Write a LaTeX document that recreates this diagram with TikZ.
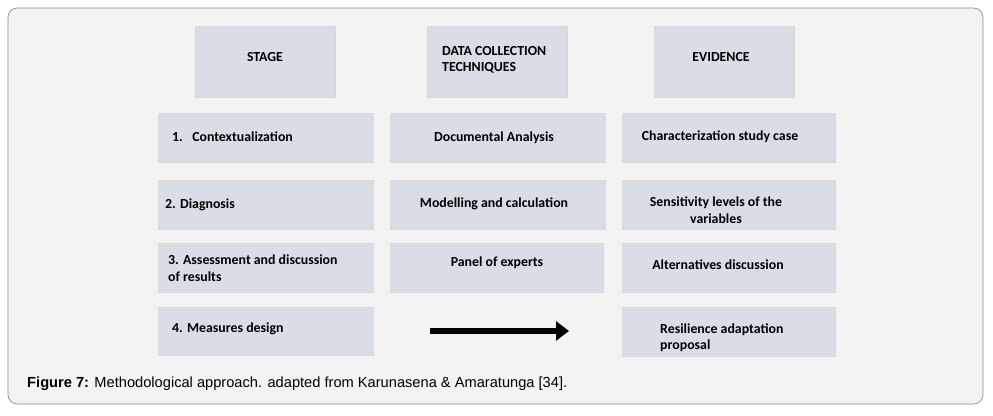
\documentclass[tikz,border=0pt]{standalone}
\usepackage{fontspec}
\setmainfont{Carlito}
\newfontfamily\capfont{Liberation Sans}
\usetikzlibrary{arrows.meta}
\definecolor{boxc}{HTML}{D9DEE6}
\definecolor{bg}{HTML}{F3F3F3}
\begin{document}
\begin{tikzpicture}[x=0.03cm,y=-0.03cm,
  box/.style={fill=boxc,draw=black!15,line width=0.6pt},
  t/.style={font=\fontsize{11.8}{14}\selectfont\bfseries,align=left,inner sep=0},
  tc/.style={font=\fontsize{11.8}{14}\selectfont\bfseries,align=center,inner sep=0}]
\useasboundingbox (0,0) rectangle (993,415);
\fill[white] (0,0) rectangle (993,415);
\draw[fill=bg,draw=black!45,rounded corners=8pt,line width=0.6pt] (8,8) rectangle (983,404);
% headers
\draw[box] (195,26) rectangle (335,97);
\node[tc] (h1) at (265,57) {STAGE};
\draw[box] (427,26) rectangle (567,97);
\node[t,anchor=west] (h2) at (442,60) {DATA COLLECTION\\TECHNIQUES};
\draw[box] (654,26) rectangle (794,97);
\node[tc] (h3) at (721,57) {EVIDENCE};
% row 1
\draw[box] (158,113) rectangle (373,162);
\node[t,anchor=west] (a1) at (172,137) {1.\ \ \ Contextualization};
\draw[box] (390,113) rectangle (605,162);
\node[tc] (b1) at (494,138) {Documental Analysis};
\draw[box] (622,113) rectangle (835,162);
\node[tc] (c1) at (720,137) {Characterization study case};
% row 2
\draw[box] (158,180) rectangle (373,229);
\node[t,anchor=west] (a2) at (165,205) {2. Diagnosis};
\draw[box] (390,180) rectangle (605,229);
\node[tc] (b2) at (494,204) {Modelling and calculation};
\draw[box] (622,180) rectangle (835,229);
\node[tc] (c2) at (716,210) {Sensitivity levels of the\\variables};
% row 3
\draw[box] (158,243) rectangle (373,292);
\node[t,anchor=west] (a3) at (168,268) {3. Assessment and discussion\\of results};
\draw[box] (390,243) rectangle (603,292);
\node[tc] (b3) at (497,263) {Panel of experts};
\draw[box] (622,243) rectangle (835,292);
\node[tc] (c3) at (718,265) {Alternatives discussion};
% row 4
\draw[box] (158,307) rectangle (373,355);
\node[t,anchor=west] (a4) at (172,329) {4. Measures design};
\draw[box] (622,307) rectangle (835,356);
\node[t,anchor=west] (c4) at (660,338) {Resilience adaptation\\proposal};
\coordinate (p) at (430,331);
\coordinate (q) at (569,331);
\draw[line width=5pt,-{Triangle[length=11pt,width=16pt]}] (p) -- (q);
% caption
\node[anchor=west,inner sep=0,font=\capfont\fontsize{12.5}{14}\selectfont] (cap) at (27,384)
 {\textbf{Figure 7:} Methodological approach. adapted from Karunasena \& Amaratunga [34].};
\end{tikzpicture}
\end{document}
